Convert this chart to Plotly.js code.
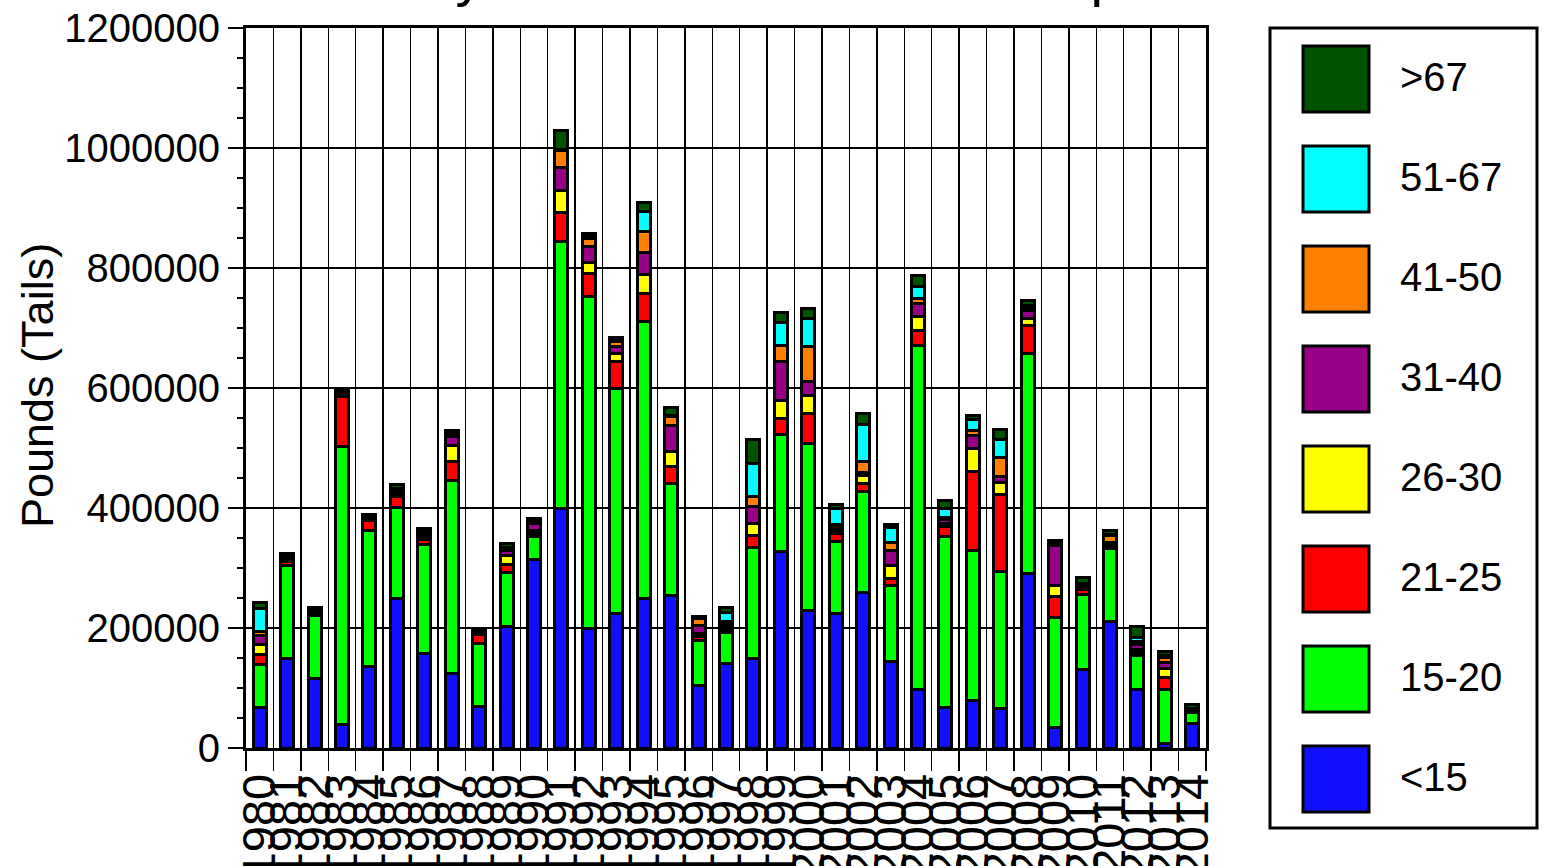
<!DOCTYPE html>
<html><head><meta charset="utf-8">
<script src="https://cdn.plot.ly/plotly-3.0.1.min.js"></script>
<style>html,body{margin:0;padding:0;background:#fff;overflow:hidden}#chart{width:1545px;height:866px}</style>
</head><body><div id="chart"></div>
<script>
const years = ["1980","1981","1982","1983","1984","1985","1986","1987","1988","1989",
  "1990","1991","1992","1993","1994","1995","1996","1997","1998","1999",
  "2000","2001","2002","2003","2004","2005","2006","2007","2008","2009",
  "2010","2011","2012","2013","2014"];
const seriesNames = ["<15","15-20","21-25","26-30","31-40","41-50","51-67",">67"];
const seriesColors = ["#1010ff","#00ff00","#ff0000","#ffff00","#990088","#ff8000","#00ffff","#005200"];

const lt15   = [68000,149000,116000,39000,136000,249000,157000,125000,69000,203000,
  314000,400000,199000,225000,250000,254000,104500,141000,149000,328000,
  230000,224000,260000,145000,97000,68000,79000,66000,291000,35000,
  131000,211000,98000,8000,41000];
const s15_20 = [72000,155000,105000,463000,227000,152000,182000,321000,106000,90000,
  39000,445000,554000,374000,461000,187000,75000,52000,186000,194000,
  277000,121000,168000,126000,574000,284000,250000,229000,367000,182000,
  125000,122000,56000,89000,19000];
const s21_25 = [16000,7000,4000,84000,16000,19000,9000,31000,14000,13000,
  5000,48000,38000,46000,47000,28000,7000,5000,20000,27000,
  51000,12000,13000,11000,25000,18000,132000,127000,46000,35000,
  9000,5000,5000,20000,2000];
const s26_30 = [17000,3000,2000,3000,3000,3000,4000,28000,2000,15000,
  4000,36000,18000,13000,31000,26000,5000,4000,20000,30000,
  29000,6000,13000,22000,24000,5000,38000,21000,12000,19000,
  3000,2000,5000,15000,1000];
const s31_40 = [14000,3000,2000,3000,2000,5000,4000,15000,2000,8000,
  12000,38000,27000,12000,37000,43000,13000,5000,27000,66000,
  24000,5000,6000,25000,21000,6000,22000,9000,14000,66000,
  3000,2000,8000,10000,1000];
const s41_50 = [8000,2000,1000,2000,1000,2000,3000,3000,1000,3000,
  2000,29000,14000,8000,35000,14000,12000,4000,17000,26000,
  58000,5000,18000,14000,9000,4000,9000,32000,3000,3000,
  2000,12000,6000,9000,1000];
const s51_67 = [37000,2000,1000,2000,1000,2000,2000,2000,1000,3000,
  2000,2000,3000,3000,34000,3000,1000,15000,55000,38000,
  47000,27000,61000,25000,19000,14000,18000,30000,5000,1000,
  2000,2000,7000,3000,1000];
const gt67   = [11000,4000,3000,4000,3000,7000,5000,5000,2000,6000,
  4000,31000,5000,4000,14000,12000,1000,9000,40000,17000,
  17000,6000,18000,4000,18000,13000,6000,17000,8000,5000,
  10000,7000,17000,7000,6000];
const seriesValues = [lt15,s15_20,s21_25,s26_30,s31_40,s41_50,s51_67,gt67];
const yTicks = [0,200000,400000,600000,800000,1000000,1200000];

const FONT = "Liberation Sans, Arial, Helvetica, sans-serif";
const traces = seriesValues.map((v,i)=>({
  type:"bar", x:years, y:v, name:seriesNames[i],
  marker:{color:seriesColors[i], line:{color:"#000", width:3}},
  showlegend:false, hoverinfo:"skip"
}));

// pixel -> paper helpers for the hand-drawn legend and titles
const L=246, R=1206, T=28, B=748;
const fx = p => (p-L)/(R-L);
const fy = p => (B-p)/(B-T);

const shapes = [{type:"rect", xref:"paper", yref:"paper",
  x0:fx(1270), x1:fx(1537), y0:fy(828), y1:fy(28), line:{color:"#000", width:3}, fillcolor:"rgba(0,0,0,0)"}];
const annotations = [];
for (let k=0;k<seriesNames.length;k++){
  const i = seriesNames.length-1-k;
  const top = 45+100*k;
  shapes.push({type:"rect", xref:"paper", yref:"paper",
    x0:fx(1303), x1:fx(1369), y0:fy(top+67), y1:fy(top+1),
    fillcolor:seriesColors[i], line:{color:"#000", width:3}});
  annotations.push({xref:"paper", yref:"paper", x:fx(1398), y:fy(top+32),
    xanchor:"left", yanchor:"middle", showarrow:false, text:seriesNames[i].replace("<","&lt;").replace(">","&gt;"),
    font:{family:FONT, size:40, color:"#000"}});
}
annotations.push({xref:"paper", yref:"paper", x:0.5, y:1.027, xanchor:"center", yanchor:"bottom",
  showarrow:false, text:"Yearly Harvest of Brown Shrimp", font:{family:FONT, size:56, color:"#000"}});
annotations.push({xref:"paper", yref:"paper", x:fx(37), y:fy(386), xanchor:"center", yanchor:"middle",
  textangle:-90, showarrow:false, text:"Pounds (Tails)", font:{family:FONT, size:45, color:"#000"}});

const layout = {
  width:1545, height:866,
  margin:{l:L, r:1545-R, t:T, b:866-B, pad:0},
  paper_bgcolor:"#fff", plot_bgcolor:"#fff",
  barmode:"stack", bargap:0.525,
  font:{family:FONT, color:"#000"},
  xaxis:{type:"category", tickmode:"array", tickvals:years, ticktext:years,
    tickson:"boundaries", ticks:"outside", ticklen:20, tickwidth:1.5, tickcolor:"#000",
    tickangle:-90, ticklabelstandoff:4, tickfont:{family:FONT, size:47, color:"#000"},
    showgrid:true, gridcolor:"#000", gridwidth:1.5,
    showline:true, linecolor:"#000", linewidth:3, mirror:true, range:[-0.5,34.5], automargin:false, fixedrange:true},
  yaxis:{range:[0,1200000], tickvals:yTicks, ticktext:yTicks.map(String), ticks:"outside", ticklen:15, tickwidth:1.5, tickcolor:"#000",
    tickfont:{family:FONT, size:40, color:"#000"},
    minor:{dtick:50000, ticks:"outside", ticklen:6, tickwidth:1.5, tickcolor:"#000", showgrid:false},
    showgrid:true, gridcolor:"#000", gridwidth:1.5, zeroline:false,
    showline:true, linecolor:"#000", linewidth:3, mirror:true, automargin:false, fixedrange:true},
  shapes:shapes, annotations:annotations
};
Plotly.newPlot("chart", traces, layout, {displayModeBar:false, staticPlot:true});
</script></body></html>
